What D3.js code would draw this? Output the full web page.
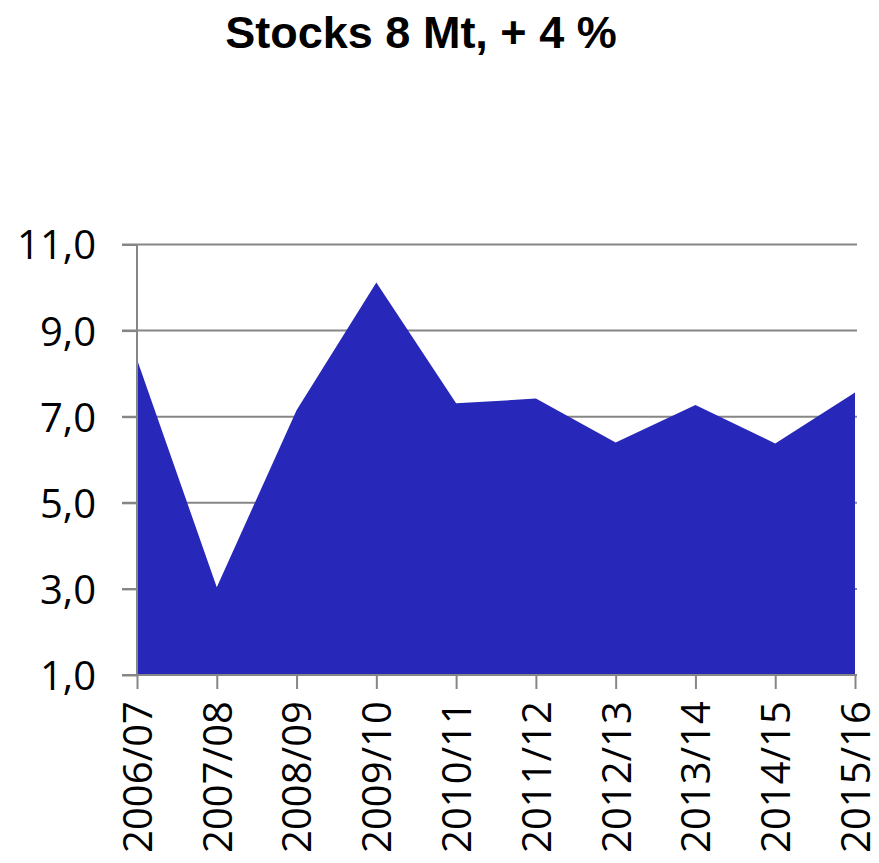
<!DOCTYPE html>
<html>
<head>
<meta charset="utf-8">
<script src="https://cdn.jsdelivr.net/npm/d3@7"></script>
<style>
  html, body { margin: 0; padding: 0; background: #ffffff; }
  svg { display: block; }
</style>
</head>
<body>
<svg id="chart" width="879" height="863"></svg>
<script>
const title = "Stocks 8 Mt, + 4 %";
const categories = ["2006/07", "2007/08", "2008/09", "2009/10", "2010/11", "2011/12", "2012/13", "2013/14", "2014/15", "2015/16"];
const stocks = [8.33, 3.04, 7.15, 10.12, 7.31, 7.42, 6.40, 7.27, 6.38, 7.56];
const yTicks = [1, 3, 5, 7, 9, 11];

const svg = d3.select("#chart");
const plotLeft = 137, plotRight = 855, plotTop = 244.5, plotBottom = 675;

const x = d3.scalePoint().domain(categories).range([plotLeft, plotRight]);
const y = d3.scaleLinear().domain([1, 11]).range([plotBottom, plotTop]);
const axisColor = "#868686";
const fmt = v => d3.format(".1f")(v).replace(".", ",");

// title
svg.append("text")
  .attr("x", 421).attr("y", 48)
  .attr("text-anchor", "middle")
  .attr("font-family", "'Liberation Sans', Arial, sans-serif")
  .attr("font-weight", "bold")
  .attr("font-size", 45)
  .attr("fill", "#000")
  .text(title);

// gridlines
svg.append("g").selectAll("line").data(yTicks.filter(d => d !== 1)).join("line")
  .attr("x1", 122).attr("x2", 857)
  .attr("y1", d => y(d)).attr("y2", d => y(d))
  .attr("stroke", axisColor).attr("stroke-width", 2);

// area
const area = d3.area()
  .x((d, i) => x(categories[i]))
  .y0(y(1))
  .y1(d => y(d));
svg.append("path")
  .datum(stocks)
  .attr("d", area)
  .attr("fill", "#2727B9");

// y axis
const yAxis = d3.axisLeft(y).tickValues(yTicks).tickSize(15).tickPadding(26).tickFormat(fmt);
const gy = svg.append("g").attr("transform", `translate(${plotLeft},0)`).call(yAxis);
gy.select(".domain").attr("stroke", axisColor).attr("stroke-width", 2)
  .attr("d", `M0,${y(11)}V${y(1)}`);
gy.selectAll(".tick line").attr("stroke", axisColor).attr("stroke-width", 2);
gy.selectAll(".tick text")
  .attr("font-family", "'Open Sans', sans-serif")
  .attr("font-size", 40)
  .attr("fill", "#000")
  .attr("dy", "0.36em");

// x axis
const xAxis = d3.axisBottom(x).tickSize(14).tickPadding(0);
const gx = svg.append("g").attr("transform", `translate(0,${plotBottom})`).call(xAxis);
gx.select(".domain").attr("stroke", axisColor).attr("stroke-width", 2)
  .attr("d", `M${plotLeft - 15},0H${plotRight + 2}`);
gx.selectAll(".tick line").attr("stroke", axisColor).attr("stroke-width", 2);
gx.selectAll(".tick text")
  .attr("font-family", "'Open Sans', sans-serif")
  .attr("font-size", 40)
  .attr("fill", "#000")
  .attr("text-anchor", "end")
  .attr("transform", "translate(0,26) rotate(-90)")
  .attr("x", 0).attr("y", 0)
  .attr("dy", "0.36em");
</script>
</body>
</html>
